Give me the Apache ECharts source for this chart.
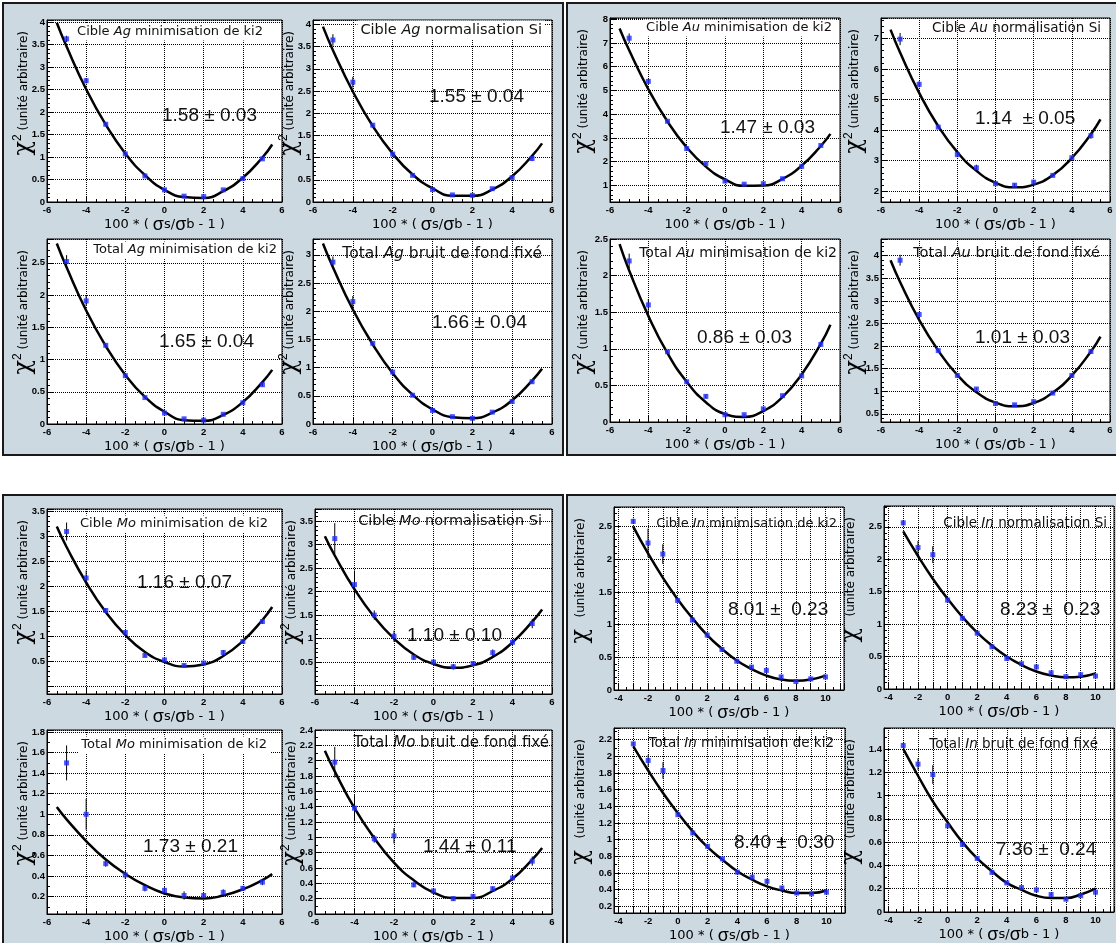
<!DOCTYPE html>
<html><head><meta charset="utf-8">
<script src="https://cdn.jsdelivr.net/npm/echarts@6/dist/echarts.min.js"></script>
<style>html,body{margin:0;padding:0;background:#fff}#c{width:1116px;height:943px}</style>
</head><body><div id="c"></div>
<script>
// ---------- DATA ----------
const xAll = [-5,-4,-3,-2,-1,0,1,2,3,4,5];
const xIn = [-3,-2,-1,0,1,2,3,4,5,6,7,8,9,10];
const fitXAll = [-5.5,-5,-4,-3,-2,-1,0,1,2,3,4,5,5.5];
const fitXIn = [-3,-2,-1,0,1,2,3,4,5,6,7,8,9,10];

const xLabelsStd = [-6,-4,-2,0,2,4,6];
const xLabelsIn = [-4,-2,0,2,4,6,8,10];
const yLabelsHalf = [0,0.5,1,1.5,2,2.5,3,3.5,4,4.5];
const yLabelsHalfNoZero = [0.5,1,1.5,2,2.5,3,3.5];
const yLabelsInt = [1,2,3,4,5,6,7,8];
const yLabelsFifth = [0,0.2,0.4,0.6,0.8,1,1.2,1.4,1.6,1.8,2,2.2,2.4];

// Ag
const agCibleMinY   = [3.63,2.70,1.73,1.07,0.58,0.27,0.13,0.12,0.27,0.52,0.96];
const agCibleMinErr = [0.07,0.06,0.03,0.02,0.02,0.01,0.01,0.01,0.01,0.02,0.03];
const agCibleMinFit = [3.99,3.46,2.51,1.72,1.08,0.60,0.27,0.11,0.09,0.24,0.54,0.99,1.28];
const agCibleSiY    = [3.65,2.70,1.73,1.08,0.60,0.28,0.16,0.15,0.30,0.55,0.98];
const agCibleSiErr  = [0.13,0.12,0.04,0.03,0.02,0.02,0.01,0.01,0.02,0.03,0.06];
const agCibleSiFit  = [3.95,3.42,2.49,1.71,1.09,0.62,0.31,0.14,0.14,0.28,0.58,1.04,1.32];
const agTotMinY     = [2.52,1.91,1.22,0.75,0.41,0.17,0.08,0.06,0.15,0.33,0.61];
const agTotMinErr   = [0.10,0.08,0.03,0.02,0.02,0.01,0.01,0.01,0.01,0.02,0.03];
const agTotMinFit   = [2.80,2.43,1.76,1.21,0.76,0.42,0.19,0.06,0.05,0.14,0.34,0.65,0.84];
const agTotBfY      = [2.87,2.17,1.43,0.92,0.51,0.24,0.13,0.10,0.21,0.40,0.75];
const agTotBfErr    = [0.10,0.10,0.03,0.03,0.02,0.01,0.01,0.01,0.01,0.02,0.03];
const agTotBfFit    = [3.20,2.78,2.03,1.41,0.90,0.52,0.26,0.12,0.10,0.20,0.42,0.77,0.98];
// Au
const auCibleMinY   = [7.20,5.38,3.70,2.55,1.92,1.18,1.05,1.07,1.28,1.80,2.68];
const auCibleMinErr = [0.20,0.10,0.05,0.05,0.04,0.03,0.03,0.03,0.03,0.04,0.05];
const auCibleMinFit = [7.61,6.69,5.05,3.69,2.60,1.79,1.25,0.98,0.99,1.27,1.83,2.66,3.17];
const auCibleSiY    = [6.98,5.50,4.10,3.20,2.77,2.25,2.20,2.30,2.52,3.10,3.82];
const auCibleSiErr  = [0.20,0.10,0.05,0.08,0.10,0.04,0.06,0.05,0.05,0.05,0.10];
const auCibleSiFit  = [7.29,6.54,5.22,4.13,3.28,2.67,2.28,2.13,2.22,2.53,3.09,3.87,4.35];
const auTotMinY     = [2.20,1.60,0.96,0.55,0.35,0.10,0.10,0.18,0.36,0.63,1.06];
const auTotMinErr   = [0.10,0.08,0.02,0.02,0.03,0.01,0.01,0.01,0.01,0.02,0.03];
const auTotMinFit   = [2.43,2.07,1.45,0.94,0.55,0.27,0.11,0.07,0.15,0.34,0.65,1.07,1.33];
const auTotBfY      = [3.90,2.70,1.90,1.35,1.05,0.73,0.70,0.77,0.96,1.35,1.88];
const auTotBfErr    = [0.12,0.05,0.03,0.03,0.03,0.02,0.02,0.02,0.02,0.03,0.05];
const auTotBfFit    = [3.90,3.42,2.58,1.90,1.36,0.98,0.75,0.67,0.74,0.97,1.35,1.88,2.21];
// Mo
const moCibleMinY   = [3.10,2.17,1.52,1.08,0.62,0.53,0.42,0.47,0.68,0.90,1.30];
const moCibleMinErr = [0.18,0.15,0.05,0.04,0.03,0.03,0.03,0.02,0.05,0.04,0.05];
const moCibleMinFit = [3.20,2.79,2.08,1.49,1.03,0.69,0.49,0.40,0.44,0.61,0.91,1.33,1.59];
const moCibleSiY    = [3.13,2.15,1.50,1.05,0.60,0.50,0.40,0.47,0.70,0.92,1.32];
const moCibleSiErr  = [0.33,0.30,0.10,0.12,0.05,0.04,0.06,0.03,0.07,0.07,0.10];
const moCibleSiFit  = [3.18,2.77,2.05,1.46,1.00,0.66,0.46,0.38,0.43,0.61,0.92,1.36,1.62];
const moTotMinY     = [1.50,1.00,0.52,0.41,0.28,0.26,0.21,0.21,0.24,0.28,0.34];
const moTotMinErr   = [0.17,0.15,0.03,0.04,0.03,0.03,0.04,0.02,0.03,0.02,0.03];
const moTotMinFit   = [1.07,0.95,0.74,0.56,0.42,0.31,0.23,0.19,0.18,0.21,0.27,0.36,0.42];
const moTotBfY      = [1.98,1.38,0.98,1.02,0.38,0.30,0.20,0.23,0.33,0.47,0.69];
const moTotBfErr    = [0.20,0.17,0.05,0.10,0.03,0.03,0.03,0.02,0.03,0.04,0.06];
const moTotBfFit    = [2.13,1.86,1.38,0.99,0.67,0.44,0.28,0.21,0.21,0.30,0.46,0.71,0.86];
// In
const inCibleMinY   = [2.58,2.25,2.08,1.37,1.07,0.84,0.62,0.44,0.35,0.30,0.20,0.13,0.17,0.20];
const inCibleMinErr = [0.04,0.22,0.15,0.02,0.02,0.04,0.02,0.02,0.02,0.04,0.02,0.01,0.01,0.02];
const inCibleMinFit = [2.50,2.09,1.72,1.39,1.10,0.84,0.63,0.45,0.32,0.22,0.16,0.14,0.16,0.22];
const inCibleSiY    = [2.56,2.18,2.07,1.37,1.09,0.86,0.65,0.47,0.39,0.34,0.25,0.19,0.22,0.20];
const inCibleSiErr  = [0.04,0.10,0.13,0.02,0.02,0.03,0.02,0.02,0.02,0.04,0.02,0.01,0.02,0.02];
const inCibleSiFit  = [2.43,2.05,1.70,1.39,1.11,0.87,0.67,0.50,0.37,0.27,0.21,0.18,0.19,0.24];
const inTotMinY     = [2.15,1.95,1.83,1.30,1.08,0.92,0.77,0.61,0.55,0.50,0.42,0.36,0.35,0.37];
const inTotMinErr   = [0.02,0.07,0.10,0.02,0.02,0.02,0.01,0.02,0.02,0.03,0.02,0.01,0.01,0.03];
const inTotMinFit   = [2.12,1.83,1.56,1.32,1.10,0.91,0.76,0.62,0.52,0.44,0.39,0.36,0.36,0.39];
const inTotBfY      = [1.43,1.27,1.18,0.74,0.58,0.46,0.34,0.25,0.21,0.19,0.15,0.11,0.14,0.17];
const inTotBfErr    = [0.02,0.05,0.08,0.02,0.02,0.01,0.01,0.01,0.01,0.02,0.01,0.01,0.01,0.03];
const inTotBfFit    = [1.40,1.17,0.95,0.77,0.60,0.46,0.35,0.25,0.19,0.14,0.12,0.12,0.15,0.20];

// ---------- PLOT TABLE ----------
const S = (x, y, e, fx, fy) => ({x, y, e, fx, fy});
const plots = [
 {pre:'Cible ',el:'Ag',post:' minimisation de ki2',val:'1.58 ± 0.03',d:S(xAll,agCibleMinY,agCibleMinErr,fitXAll,agCibleMinFit),xr:[-6,6],yr:[0,4.05],ys:0.5,yl:yLabelsHalf},
 {pre:'Cible ',el:'Ag',post:' normalisation Si',val:'1.55 ± 0.04',d:S(xAll,agCibleSiY,agCibleSiErr,fitXAll,agCibleSiFit),xr:[-6,6],yr:[0,4.1],ys:0.5,yl:yLabelsHalf},
 {pre:'Total ',el:'Ag',post:' minimisation de ki2',val:'1.65 ± 0.04',d:S(xAll,agTotMinY,agTotMinErr,fitXAll,agTotMinFit),xr:[-6,6],yr:[0,2.87],ys:0.5,yl:yLabelsHalf},
 {pre:'Total ',el:'Ag',post:' bruit de fond fixé',val:'1.66 ± 0.04',d:S(xAll,agTotBfY,agTotBfErr,fitXAll,agTotBfFit),xr:[-6,6],yr:[0,3.28],ys:0.5,yl:yLabelsHalf},
 {pre:'Cible ',el:'Au',post:' minimisation de ki2',val:'1.47 ± 0.03',d:S(xAll,auCibleMinY,auCibleMinErr,fitXAll,auCibleMinFit),xr:[-6,6],yr:[0.3,8.05],ys:1,yl:yLabelsInt},
 {pre:'Cible ',el:'Au',post:' normalisation Si',val:'1.14  ± 0.05',d:S(xAll,auCibleSiY,auCibleSiErr,fitXAll,auCibleSiFit),xr:[-6,6],yr:[1.65,7.67],ys:1,yl:yLabelsInt},
 {pre:'Total ',el:'Au',post:' minimisation de ki2',val:'0.86 ± 0.03',d:S(xAll,auTotMinY,auTotMinErr,fitXAll,auTotMinFit),xr:[-6,6],yr:[0,2.5],ys:0.5,yl:yLabelsHalf},
 {pre:'Total ',el:'Au',post:' bruit de fond fixé',val:'1.01 ± 0.03',d:S(xAll,auTotBfY,auTotBfErr,fitXAll,auTotBfFit),xr:[-6,6],yr:[0.32,4.37],ys:0.5,yl:yLabelsHalf},
 {pre:'Cible ',el:'Mo',post:' minimisation de ki2',val:'1.16 ± 0.07',d:S(xAll,moCibleMinY,moCibleMinErr,fitXAll,moCibleMinFit),xr:[-6,6],yr:[-0.15,3.55],ys:0.5,yl:yLabelsHalfNoZero},
 {pre:'Cible ',el:'Mo',post:' normalisation Si',val:'1.10 ± 0.10',d:S(xAll,moCibleSiY,moCibleSiErr,fitXAll,moCibleSiFit),xr:[-6,6],yr:[-0.18,3.76],ys:0.5,yl:yLabelsHalfNoZero},
 {pre:'Total ',el:'Mo',post:' minimisation de ki2',val:'1.73 ± 0.21',d:S(xAll,moTotMinY,moTotMinErr,fitXAll,moTotMinFit),xr:[-6,6],yr:[0.03,1.82],ys:0.2,yl:yLabelsFifth},
 {pre:'Total ',el:'Mo',post:' bruit de fond fixé',val:'1.44 ± 0.11',d:S(xAll,moTotBfY,moTotBfErr,fitXAll,moTotBfFit),xr:[-6,6],yr:[0,2.4],ys:0.2,yl:yLabelsFifth},
 {pre:'Cible ',el:'In',post:' minimisation de ki2',val:'8.01 ±  0.23',d:S(xIn,inCibleMinY,inCibleMinErr,fitXIn,inCibleMinFit),xr:[-4.3,11.25],yr:[0,2.8],ys:0.5,yl:yLabelsHalf,isIn:true},
 {pre:'Cible ',el:'In',post:' normalisation Si',val:'8.23 ±  0.23',d:S(xIn,inCibleSiY,inCibleSiErr,fitXIn,inCibleSiFit),xr:[-4.3,11.25],yr:[0,2.82],ys:0.5,yl:yLabelsHalf,isIn:true},
 {pre:'Total ',el:'In',post:' minimisation de ki2',val:'8.40 ±  0.30',d:S(xIn,inTotMinY,inTotMinErr,fitXIn,inTotMinFit),xr:[-4.3,11.25],yr:[0.12,2.34],ys:0.2,yl:yLabelsFifth,isIn:true},
 {pre:'Total ',el:'In',post:' bruit de fond fixé',val:'7.36 ±  0.24',d:S(xIn,inTotBfY,inTotBfErr,fitXIn,inTotBfFit),xr:[-4.3,11.25],yr:[0,1.58],ys:0.2,yl:yLabelsFifth,isIn:true}
];

// ---------- LAYOUT ----------
const frames = [
 [47,20,282,202],[313,20,552,202],[47,239,282,424],[313,239,552,424],
 [610,18,840,202],[881,18,1110,202],[610,239,840,422],[881,239,1110,422],
 [47,509,282,694],[315,509,552,694],[47,730,282,914],[315,730,552,914],
 [614,507,844,690],[884,506,1114,689],[614,728,845,913],[884,728,1114,912]
];
const titlePos = [
 [266,32],[545,30],[280,250],[545,254],
 [835,28],[1104,28],[840,253],[1103,253],
 [271,524],[545,521],[270,745],[552,743],
 [840,524],[1110,523],[837,743],[1101,744]
];
const titleSize = [13,14.5,13,15.5, 13,13.5,14,14.5, 13,14.5,13,15, 13,13.5,13.5,13.5];
const titleBox = [true,true,true,false,true,false,false,false,true,false,true,false,false,false,false,false];
const valuePos = [
 [162,116],[429,97],[159,342],[432,323],
 [720,128],[975,119],[697,338],[975,338],
 [137,583],[407,636],[143,847],[423,847],
 [728,610],[1000,610],[734,843],[996,850]
];
const yTitleGap = [11,11,11,11,14,14,14,14,11,11,11,11,21,21,21,21];
const panels = [[3,3,560,452],[567,3,560,452],[3,495,560,460],[567,495,560,460]];

const FONT = "'Liberation Sans', Arial, sans-serif";
const TFONT = "'DejaVu Sans', sans-serif";
const labelFmt = (list) => (v) => {
  for (const l of list) { if (Math.abs(l - v) < 1e-6) return String(Math.round(l*1000)/1000); }
  return '';
};
const errRender = (params, api) => {
  const p1 = api.coord([api.value(0), api.value(1)]);
  const p2 = api.coord([api.value(0), api.value(2)]);
  return {type:'line', shape:{x1:p1[0],y1:p1[1],x2:p2[0],y2:p2[1]}, style:{stroke:'#000', lineWidth:1}};
};

const option = {animation:false, backgroundColor:'#fff', grid:[], xAxis:[], yAxis:[], series:[], graphic:[]};

panels.forEach(p => option.graphic.push({type:'rect', z:-10, shape:{x:p[0],y:p[1],width:p[2],height:p[3]},
  style:{fill:'#cdd9e1', stroke:'#1a1a1a', lineWidth:2}}));

plots.forEach((p, i) => {
  const [l,t,r,b] = frames[i];
  option.grid.push({left:l, top:t, width:r-l, height:b-t, show:true, backgroundColor:'#fff',
    borderColor:'#000', borderWidth:1, containLabel:false, outerBoundsMode:'none'});
  const tickCommon = {
    axisLine:{show:true, onZero:false, lineStyle:{color:'#000', width:1}},
    axisTick:{show:true, inside:true, length:6, lineStyle:{color:'#000'}},
    splitLine:{show:true, lineStyle:{type:'dotted', color:'#000', width:1}},
    axisPointer:{show:false}
  };
  option.xAxis.push(Object.assign({type:'value', gridIndex:i, min:p.xr[0], max:p.xr[1],
    minInterval: p.isIn ? 1 : 2, maxInterval: p.isIn ? 1 : 2, splitNumber: 16,
    minorTick:{show:true, splitNumber: p.isIn ? 2 : 4, length:3, lineStyle:{color:'#000'}},
    axisLabel:{formatter: labelFmt(p.isIn ? xLabelsIn : xLabelsStd), margin:3, fontSize:9.5, fontWeight:'bold',
      fontFamily:FONT, color:'#000', showMinLabel:true, showMaxLabel:true},
    name:'100 * ( {g|σ}s/{g|σ}b - 1 )', nameLocation:'middle', nameGap:12,
    nameTextStyle:{fontSize:13, fontFamily:TFONT, color:'#000', rich:{g:{fontSize:18, fontFamily:FONT, color:'#000'}}}
  }, tickCommon));
  option.yAxis.push(Object.assign({type:'value', gridIndex:i, min:p.yr[0], max:p.yr[1],
    minInterval:p.ys, maxInterval:p.ys, splitNumber: 20,
    minorTick:{show:true, splitNumber: p.ys === 0.2 ? 2 : 5, length:3, lineStyle:{color:'#000'}},
    axisLabel:{formatter: labelFmt(p.yl), margin:2, fontSize:9.5, fontWeight:'bold',
      fontFamily:FONT, color:'#000', showMinLabel:true, showMaxLabel:true}
  }, tickCommon));

  option.series.push({type:'line', xAxisIndex:i, yAxisIndex:i, silent:true, smooth:true, symbol:'none',
    lineStyle:{color:'#000', width:2.5}, z:3, clip:true,
    data: p.d.fx.map((x,j) => [x, p.d.fy[j]])});
  option.series.push({type:'custom', xAxisIndex:i, yAxisIndex:i, silent:true, z:4, renderItem: errRender,
    data: p.d.x.map((x,j) => [x, p.d.y[j]-p.d.e[j], p.d.y[j]+p.d.e[j]])});
  option.series.push({type:'scatter', xAxisIndex:i, yAxisIndex:i, silent:true, z:5, symbol:'rect', symbolSize:5,
    itemStyle:{color:'#1f2cff'}, data: p.d.x.map((x,j) => [x, p.d.y[j]])});

  const ts = titleSize[i];
  option.graphic.push({type:'text', z:100, x:titlePos[i][0], y:titlePos[i][1],
    style:{text: p.pre + '{e|' + p.el + '}' + p.post, align:'right', verticalAlign:'middle',
      fontSize:ts, fontFamily:TFONT, fill:'#111',
      backgroundColor: titleBox[i] ? '#fff' : null, padding:[2,3],
      rich:{e:{fontStyle:'italic', fontSize:ts, fontFamily:TFONT, fill:'#111'}}}});
  option.graphic.push({type:'text', z:100, x:valuePos[i][0], y:valuePos[i][1],
    style:{text:p.val, align:'left', verticalAlign:'middle', fontSize:19, fontFamily:FONT, fill:'#111'}});
  option.graphic.push({type:'text', z:100, x:l - yTitleGap[i], y:t + 11, rotation: Math.PI/2,
    style:{text: p.isIn ? '{c|χ}{u|   (unité arbitraire)}' : '{c|χ}{s|2}{u| (unité arbitraire)}',
      align:'right', verticalAlign:'bottom', fontSize:12, fontFamily:TFONT, fill:'#000',
      rich:{c:{fontSize:24, fontFamily:"'DejaVu Serif', serif", fill:'#000', verticalAlign:'middle'},
            s:{fontSize:12, fontFamily:FONT, fill:'#000', verticalAlign:'top'},
            u:{fontSize:12, fontFamily:TFONT, fill:'#000', verticalAlign:'middle'}}}});
});

const chart = echarts.init(document.getElementById('c'), null, {renderer:'canvas'});
chart.setOption(option);
</script></body></html>
